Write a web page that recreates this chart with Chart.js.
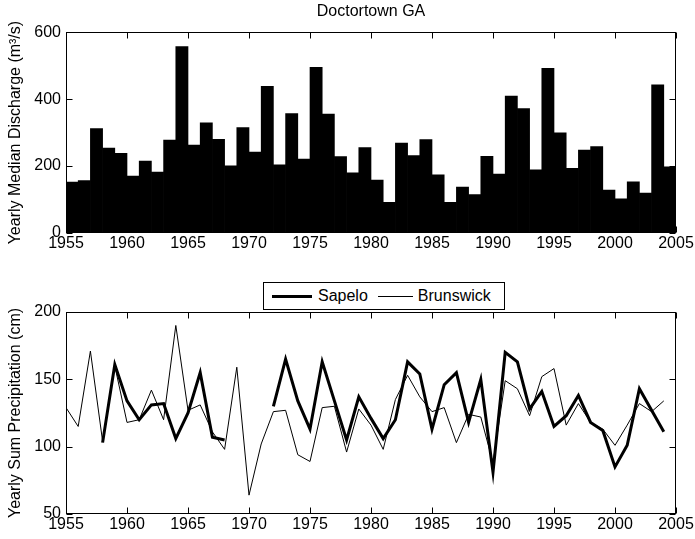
<!DOCTYPE html>
<html>
<head>
<meta charset="utf-8">
<title>Doctortown GA</title>
<script src="https://cdn.jsdelivr.net/npm/chart.js@4.4.0/dist/chart.umd.min.js"></script>
<style>
  body { margin: 0; background: #fff; }
  #wrap { position: relative; width: 695px; height: 539px; font-family: 'Liberation Sans', Arial, sans-serif; }
  #wrap canvas { position: absolute; left: 0; }
  #legend {
    position: absolute; left: 263px; top: 282px; width: 242px; height: 28px;
    box-sizing: border-box; border: 1px solid #000; background: #fff;
    display: flex; align-items: center; font-size: 16px; color: #000;
  }
  #legend .swatch { background: #000; }
</style>
</head>
<body>
<div id="wrap">
  <canvas id="dischargeChart" width="695" height="262" style="top:0"></canvas>
  <canvas id="precipChart" width="695" height="277" style="top:262px"></canvas>
  <div id="legend"></div>
</div>
<script>
const years = Array.from({ length: 50 }, (_, i) => 1955 + i);

// yearly median discharge, m3/s
const discharge = [
  152, 157, 312, 254, 238, 170, 215, 182, 278, 557,
  263, 329, 280, 201, 315, 242, 438, 204, 357, 221,
  495, 355, 228, 180, 255, 158, 92, 269, 231, 279,
  174, 92, 137, 115, 229, 176, 409, 372, 189, 492,
  299, 193, 248, 258, 128, 102, 153, 119, 443, 198
];

// yearly precipitation sums, cm (null = no record)
const sapelo = [
  null, null, null, 103, 161, 134, 120, 131, 132, 106,
  125, 155, 107, 105, null, null, null, 130, 165, 134,
  113, 163, 134, 105, 137, 121, 106, 120, 163, 154,
  113, 146, 155, 118, 150, 81, 170, 163, 128, 141,
  115, 123, 138, 118, 112, 85, 101, 143, 127, 111
];
const brunswick = [
  129, 115, 171, 104, 160, 118, 120, 142, 120, 190,
  127, 131, 111, 98, 159, 64, 102, 126, 127, 94,
  89, 129, 130, 96, 128, 116, 98, 135, 153, 137,
  126, 129, 103, 124, 122, 88, 149, 143, 123, 152,
  158, 116, 132, 118, 113, 101, 116, 132, 126, 134
];

const xTicks = { min: 1955, max: 2005, step: 5 };
const dischargeTicks = { min: 0, max: 600, step: 200 };
const precipTicks = { min: 50, max: 200, step: 50 };

const font = { family: "'Liberation Sans', Arial, sans-serif", size: 16 };
Chart.defaults.color = '#000';
Chart.defaults.font = font;

// matlab-style box with inward ticks on all four sides
const boxTicks = {
  id: 'boxTicks',
  afterDatasetsDraw(chart) {
    const { ctx, chartArea: a, scales: { x, y } } = chart;
    const len = 6;
    const l = Math.round(a.left) + 0.5, r = Math.round(a.right) - 0.5;
    const t = Math.round(a.top) + 0.5, b = Math.round(a.bottom) - 0.5;
    ctx.save();
    ctx.strokeStyle = '#000';
    ctx.lineWidth = 1;
    ctx.beginPath();
    x.ticks.forEach(tk => {
      const px = Math.round(x.getPixelForValue(tk.value)) + 0.5;
      ctx.moveTo(px, b); ctx.lineTo(px, b - len);
      ctx.moveTo(px, t); ctx.lineTo(px, t + len);
    });
    y.ticks.forEach(tk => {
      const py = Math.round(y.getPixelForValue(tk.value)) + 0.5;
      ctx.moveTo(l, py); ctx.lineTo(l + len, py);
      ctx.moveTo(r, py); ctx.lineTo(r - len, py);
    });
    ctx.stroke();
    ctx.strokeRect(l, t, r - l, b - t);
    ctx.restore();
  }
};

function xScale(height) {
  return {
    type: 'linear',
    min: xTicks.min,
    max: xTicks.max,
    offset: false,
    grid: { display: false, drawTicks: false },
    border: { display: false },
    ticks: { stepSize: xTicks.step, padding: 1, maxRotation: 0, autoSkip: false, callback: v => String(v) },
    afterFit: s => { s.height = height; }
  };
}

function yScale(range, label) {
  return {
    min: range.min,
    max: range.max,
    grid: { display: false, drawTicks: false },
    border: { display: false },
    ticks: { stepSize: range.step, padding: 5 },
    title: { display: true, text: label, padding: { top: 6, bottom: 0 } },
    afterFit: s => { s.width = 66; }
  };
}

new Chart(document.getElementById('dischargeChart'), {
  type: 'bar',
  data: {
    datasets: [{
      label: 'Discharge',
      data: years.map((yr, i) => ({ x: yr + 0.5, y: discharge[i] })),
      backgroundColor: '#000',
      borderWidth: 0,
      barPercentage: 1,
      categoryPercentage: 1
    }]
  },
  options: {
    responsive: false,
    animation: false,
    events: [],
    layout: { padding: { left: 0, right: 19, top: 0, bottom: 0 } },
    plugins: {
      legend: { display: false },
      tooltip: { enabled: false },
      title: {
        display: true,
        text: 'Doctortown GA',
        fullSize: false,
        font: { weight: 'normal' },
        padding: { top: 2, bottom: 11 }
      }
    },
    scales: {
      x: xScale(29),
      y: yScale(dischargeTicks, 'Yearly Median Discharge (m³/s)')
    }
  },
  plugins: [boxTicks]
});

const precipChart = new Chart(document.getElementById('precipChart'), {
  type: 'line',
  data: {
    datasets: [
      {
        label: 'Sapelo',
        data: years.map((yr, i) => ({ x: yr, y: sapelo[i] })),
        borderColor: '#000',
        borderWidth: 3,
        pointRadius: 0,
        tension: 0,
        spanGaps: false
      },
      {
        label: 'Brunswick',
        data: years.map((yr, i) => ({ x: yr, y: brunswick[i] })),
        borderColor: '#000',
        borderWidth: 1,
        pointRadius: 0,
        tension: 0
      }
    ]
  },
  options: {
    responsive: false,
    animation: false,
    events: [],
    layout: { padding: { left: 0, right: 19, top: 50, bottom: 0 } },
    plugins: {
      legend: { display: false },
      tooltip: { enabled: false }
    },
    scales: {
      x: xScale(25),
      y: yScale(precipTicks, 'Yearly Sum Precipitation (cm)')
    }
  },
  plugins: [boxTicks]
});

// legend box above the precipitation axes
const legendEl = document.getElementById('legend');
const swatchW = [40, 35];
const gaps = [[8, 6], [10, 5]];
precipChart.data.datasets.forEach((ds, i) => {
  const sw = document.createElement('span');
  sw.className = 'swatch';
  sw.style.width = swatchW[i] + 'px';
  sw.style.height = ds.borderWidth + 'px';
  sw.style.marginLeft = gaps[i][0] + 'px';
  const txt = document.createElement('span');
  txt.textContent = ds.label;
  txt.style.marginLeft = gaps[i][1] + 'px';
  legendEl.appendChild(sw);
  legendEl.appendChild(txt);
});
</script>
</body>
</html>
